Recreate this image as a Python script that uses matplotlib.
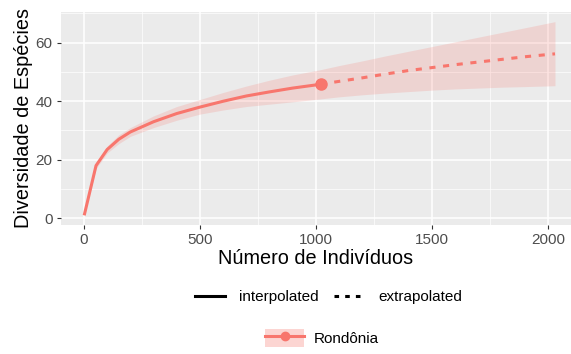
import matplotlib.pyplot as plt
from matplotlib.lines import Line2D
from matplotlib.patches import Patch
import numpy as np

plt.rcParams['font.family'] = ['Liberation Sans', 'DejaVu Sans']

# curva de rarefacao / extrapolacao
x_interp = [1, 52, 100, 150, 200, 300, 400, 500, 600, 700, 800, 900, 1020]
y_interp = [1, 18, 23.5, 27, 29.5, 33, 35.8, 38, 40, 41.8, 43.2, 44.5, 45.8]
lo_interp = [1, 17, 22.3, 25.5, 28, 31, 33.5, 35.6, 37.0, 38.2, 39.0, 39.8, 40.8]
hi_interp = [1, 19, 24.7, 28.5, 31, 35, 38.2, 40.6, 43.0, 45.2, 47.2, 49.0, 50.8]

x_extrap = [1020, 1100, 1200, 1300, 1400, 1500, 1600, 1700, 1800, 1900, 2030]
y_extrap = [45.8, 46.8, 48.0, 49.3, 50.5, 51.5, 52.5, 53.4, 54.3, 55.2, 56.2]
lo_extrap = [40.8, 41.5, 42.2, 42.8, 43.3, 43.8, 44.2, 44.5, 44.8, 45.0, 45.3]
hi_extrap = [50.8, 52.2, 53.8, 55.5, 57.1, 58.7, 60.3, 61.9, 63.5, 65.1, 67.2]

obs_x = 1020
obs_y = 45.8
site = "Rondônia"

red = '#F8766D'
fig = plt.figure(figsize=(5.71, 3.54), dpi=100)
ax = fig.add_axes([61/571, 1-225/354, 510/571, 213/354])
ax.set_facecolor('#EBEBEB')

ax.fill_between(x_interp + x_extrap[1:], lo_interp + lo_extrap[1:], hi_interp + hi_extrap[1:],
                color=red, alpha=0.2, linewidth=0)
ax.plot(x_interp, y_interp, color=red, lw=2.2, solid_capstyle='butt')
ax.plot(x_extrap, y_extrap, color=red, lw=2.2, ls=(0, (2, 2.5)))
ax.plot(obs_x, obs_y, 'o', color=red, ms=8)

ax.set_xlim(-99, 2099)
ax.set_ylim(-2.3, 70.5)
ax.set_xticks([0, 500, 1000, 1500, 2000])
ax.set_yticks([0, 20, 40, 60])
ax.set_xticks([250, 750, 1250, 1750], minor=True)
ax.set_yticks([10, 30, 50, 70], minor=True)
ax.grid(which='major', color='white', lw=1.1)
ax.grid(which='minor', color='white', lw=0.5)
ax.set_axisbelow(True)
for s in ax.spines.values():
    s.set_visible(False)
ax.tick_params(which='major', colors='#333333', labelcolor='#4D4D4D', labelsize=11, length=3, pad=3)
ax.tick_params(which='minor', length=0)
ax.set_xlabel("Número de Indivíduos", fontsize=14.3, labelpad=1)
ax.set_ylabel("Diversidade de Espécies", fontsize=14.3, labelpad=2)

# legendas
leg1 = fig.legend(handles=[Line2D([], [], color='black', lw=2.2),
                           Line2D([], [], color='black', lw=2.2, ls=(0, (1.5, 2)))],
                  labels=['interpolated', 'extrapolated'], ncol=2, frameon=False,
                  loc='center', bbox_to_anchor=(0.575, 1-297/354), fontsize=11,
                  handlelength=2.0, columnspacing=1.0, handletextpad=0.9)
key = (Patch(facecolor=red, alpha=0.3, edgecolor='none'),
       Line2D([], [], color=red, lw=2.2, marker='o', ms=6))
leg2 = fig.legend(handles=[key], labels=[site], frameon=False,
                  loc='center', bbox_to_anchor=(0.564, 1-338/354), fontsize=11,
                  handlelength=2.55, handleheight=1.4, handletextpad=0.65)

fig.savefig('out.png', dpi=100)
